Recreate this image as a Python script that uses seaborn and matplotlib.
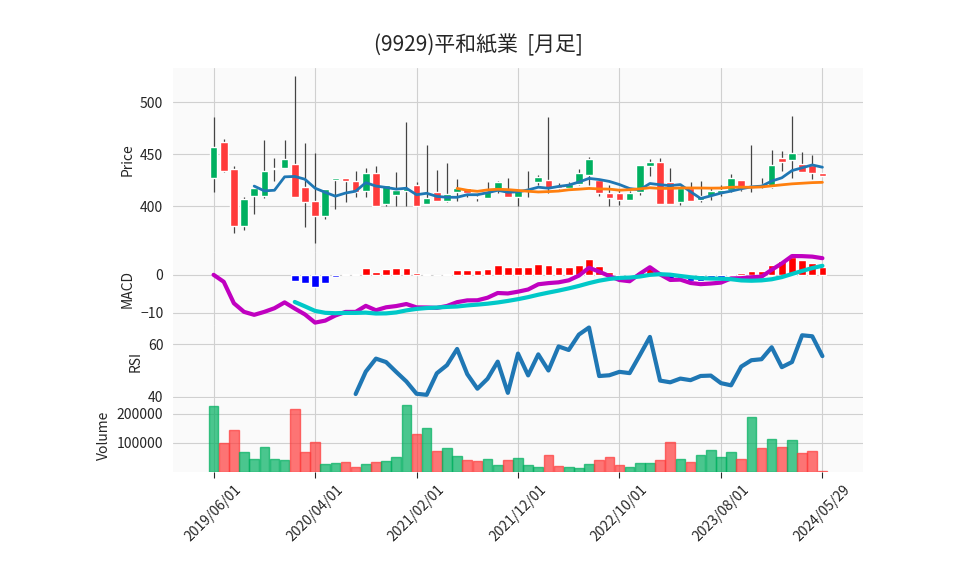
import numpy as np
import pandas as pd
import matplotlib
matplotlib.use("Agg")
import matplotlib.pyplot as plt
import seaborn as sns

# monthly candles, 2019/06 .. 2024/05/29
opens = [427, 461.5, 436, 381, 410, 410, 436, 437, 441, 419, 405, 391, 425, 427, 424, 415,
         432, 402.5, 411, 415, 420.5, 402.5, 413.5, 405.4, 414, 418, 408.3, 407.7, 416, 415,
         408.7, 416, 423.7, 425, 419.9, 417.3, 421.5, 430, 425, 412.5, 412.5, 406.4, 413.5, 439,
         442.6, 423, 404.5, 418, 406.4, 410, 412.5, 415.7, 425, 419, 421.5, 418.3, 446.5, 444.9,
         440.7, 439.7, 432]
highs = [486, 465, 439, 409, 412, 464, 446, 464, 525, 460.5, 451, 417, 427, 427, 434, 436.5,
         439, 420.5, 432.7, 480.8, 423, 459, 435, 442, 426, 418, 410, 423, 424, 427,
         415, 433.7, 430, 485.6, 422, 423, 436, 447, 425, 420, 416, 415, 439.7, 445.5,
         446, 437, 417.6, 423, 424, 417.6, 420, 431, 425, 459, 427, 454, 453, 486.5,
         452, 449.7, 432]
lows = [414, 433, 374, 377, 393, 408, 424, 437, 409, 380, 365, 388, 397, 404, 409, 409,
        400.6, 400, 400, 400, 400.6, 402.5, 405, 403.8, 405, 409, 405, 407.7, 413, 408.7,
        400.6, 409, 420, 412.5, 416.7, 416.7, 420.5, 420, 410, 400.6, 401, 406.4, 411, 428.8,
        402.2, 402, 401.3, 405.4, 404.5, 406, 409.6, 413.5, 415, 413.5, 417.6, 417.6, 434, 427,
        432.7, 426, 428.8]
closes = [457, 434, 381, 407, 418, 434, 437, 445.5, 409, 404.5, 391, 417, 427, 424, 413.5, 432,
          400.6, 420.5, 415.7, 418, 400.6, 407.7, 405.4, 411.5, 418, 413, 407.7, 415, 423, 408.7,
          415, 417, 428, 418, 417.3, 421.5, 431.7, 445.5, 412.5, 408.3, 406.4, 412.5, 439.7, 442.6,
          402.2, 402.2, 417.6, 405.4, 410, 414.7, 415.7, 427, 416.7, 419.2, 418.3, 439.7, 443, 451.3,
          432.7, 432, 428.8]
volumes = [227000, 99000, 144000, 69000, 44000, 85000, 44000, 40000, 216000, 69000, 102000,
           28000, 31000, 34000, 16000, 28000, 34000, 38000, 51000, 231000, 131000, 150000,
           71000, 82000, 55000, 40000, 37000, 44000, 24000, 40000, 48000, 23000, 17000, 59000,
           21000, 17000, 14000, 28000, 40000, 51000, 23000, 17000, 31000, 31000, 40000, 102000,
           44000, 34000, 59000, 75000, 51000, 69000, 44000, 190000, 82000, 113000, 85000,
           109000, 64000, 71000, 3000]
tick_idx = [0, 10, 20, 30, 40, 50, 60]
tick_labels = ["2019/06/01", "2020/04/01", "2021/02/01", "2021/12/01",
               "2022/10/01", "2023/08/01", "2024/05/29"]

df = pd.DataFrame({"Open": opens, "High": highs, "Low": lows, "Close": closes, "Volume": volumes})
df["x"] = np.arange(len(df))
df["MA5"] = df["Close"].rolling(5).mean()
df["MA25"] = df["Close"].rolling(25).mean()
ema12 = df["Close"].ewm(span=12, adjust=False).mean()
ema26 = df["Close"].ewm(span=26, adjust=False).mean()
df["MACD"] = ema12 - ema26
df["Signal"] = df["MACD"].rolling(9).mean()
df["Hist"] = df["MACD"] - df["Signal"]
diff = df["Close"].diff()
gain = diff.clip(lower=0).rolling(14).mean()
loss = (-diff.clip(upper=0)).rolling(14).mean()
df["RSI"] = 100 - 100 / (1 + gain / loss)

sns.set_style("whitegrid", {"axes.facecolor": "#fafafa", "grid.color": "#d0d0d0"})
plt.rcParams["font.family"] = ["Noto Sans CJK JP", "DejaVu Sans"]

fig = plt.figure(figsize=(9.58, 5.75), dpi=100)
L, W = 173 / 958, 690 / 958
def mk(top, bot):
    return fig.add_axes([L, 1 - bot / 575, W, (bot - top) / 575])
ax1 = mk(68, 252)
ax2 = mk(252, 325)
ax3 = mk(325, 398)
ax4 = mk(398, 472)

up = df["Close"] >= df["Open"]
cols = np.where(up, "#00b060", "#ff3b3b")
ax1.vlines(df["x"], df["Low"], df["High"], color="#444444", lw=0.9, zorder=2)
ax1.bar(df["x"], (df["Close"] - df["Open"]).abs().clip(lower=0.8),
        bottom=np.minimum(df["Open"], df["Close"]), width=0.75, color=cols, zorder=3)
sns.lineplot(data=df, x="x", y="MA5", ax=ax1, color="#1f77b4", lw=2, zorder=4)
sns.lineplot(data=df, x="x", y="MA25", ax=ax1, color="#ff7f0e", lw=2, zorder=4)
ax1.set_ylim(356, 533)
ax1.set_yticks([400, 450, 500])
ax1.set_ylabel("Price")

hcol = np.where(df["Hist"] >= 0, "#ff0000", "#0000ff")
ax2.bar(df["x"], df["Hist"], width=0.75, color=hcol)
sns.lineplot(data=df, x="x", y="MACD", ax=ax2, color="#c000c0", lw=3)
sns.lineplot(data=df, x="x", y="Signal", ax=ax2, color="#00c8c8", lw=3)
ax2.set_ylim(-13.2, 6)
ax2.set_yticks([-10, 0])
ax2.set_ylabel("MACD")

sns.lineplot(data=df, x="x", y="RSI", ax=ax3, color="#1f77b4", lw=3)
ax3.set_ylim(39.6, 67.2)
ax3.set_yticks([40, 60])
ax3.set_ylabel("RSI")

vcol = np.where(up, "#00b060", "#ff3b3b")
ax4.bar(df["x"], df["Volume"], width=0.95, color=vcol, alpha=0.7, edgecolor=vcol)
ax4.set_ylim(0, 255000)
ax4.set_yticks([100000, 200000])
ax4.ticklabel_format(axis="y", style="plain")
ax4.set_ylabel("Volume")

for ax in (ax1, ax2, ax3, ax4):
    ax.set_xlim(-4, 64)
    ax.set_xticks(tick_idx)
    ax.set_xlabel("")
    for s in ax.spines.values():
        s.set_visible(False)
    ax.tick_params(labelsize=10)
    if ax is not ax4:
        ax.set_xticklabels([])
ax4.set_xticklabels(tick_labels, rotation=45)
ax4.tick_params(axis="x", length=4, bottom=True)

fig.suptitle("(9929)平和紙業  [月足]", y=1 - 45 / 575, va="center", fontsize=15)
fig.savefig("out.png", dpi=100)
